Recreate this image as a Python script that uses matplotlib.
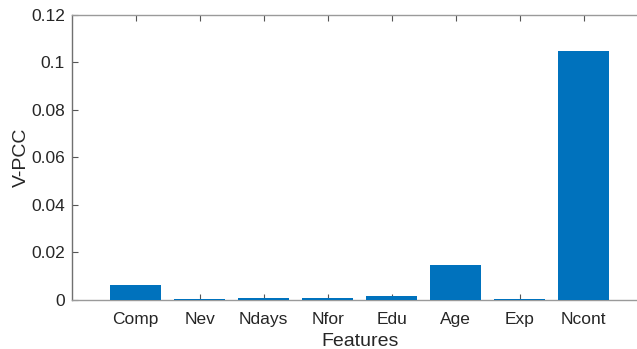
import matplotlib
matplotlib.use("Agg")
import matplotlib.pyplot as plt
import numpy as np

features = ["Comp", "Nev", "Ndays", "Nfor", "Edu", "Age", "Exp", "Ncont"]
vpcc = [0.0061, 0.0002, 0.0008, 0.0008, 0.0017, 0.0146, 0.0002, 0.1047]
yticks = [0, 0.02, 0.04, 0.06, 0.08, 0.1, 0.12]
ytick_labels = ["0", "0.02", "0.04", "0.06", "0.08", "0.1", "0.12"]

plt.rcParams["font.family"] = ["Liberation Sans", "DejaVu Sans"]

W, H = 637, 349
fig = plt.figure(figsize=(W / 100, H / 100), dpi=100)
left, right, top, bottom = 71.7, 71.7 + 9 * 64.0, 15.0, 299.7
ax = fig.add_axes([left / W, 1 - bottom / H, (right - left) / W, (bottom - top) / H])

x = np.arange(1, len(features) + 1)
ax.bar(x, vpcc, width=0.8, color="#0072BD", edgecolor="none", zorder=3)

ax.set_xlim(0, 9)
ax.set_ylim(0, 0.12)
ax.set_xticks(x)
ax.set_xticklabels(features)
ax.set_yticks(yticks)
ax.set_yticklabels(ytick_labels)

for s in ax.spines.values():
    s.set_color("#9a9a9a")
    s.set_linewidth(1.0)
    s.set_zorder(2)
ax.spines["left"].set_color("#707070")

ax.tick_params(axis="both", direction="in", length=4, width=0.8, color="#555555",
               labelsize=12.5, labelcolor="#262626", top=True, right=True)
ax.tick_params(axis="x", pad=9)
ax.tick_params(axis="y", pad=5)

ax.set_xlabel("Features", fontsize=14, color="#262626", labelpad=4)
ax.set_ylabel("V-PCC", fontsize=14, color="#262626", labelpad=1)

fig.savefig("out.png", dpi=100)
